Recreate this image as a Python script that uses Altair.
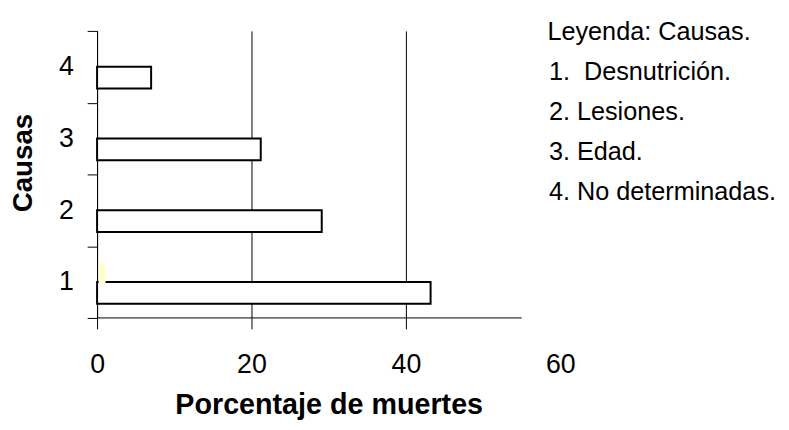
import altair as alt
import pandas as pd

# ---- data ----
causas = ["1", "2", "3", "4"]
porcentajes = [43.2, 29.1, 21.2, 7.0]
leyenda = ["1.\u00a0 Desnutrición.", "2. Lesiones.", "3. Edad.", "4. No determinadas."]
serie2_inicio = [0.2, 0.0, 0.0, 0.0]
serie2 = [1.1, 0.0, 0.0, 0.0]
x_ticks = [0, 20, 40, 60]
x_dominio = [0, 60]
eje_x_linea = [0, 55]

FONT = "Liberation Sans"
W, H = 468, 290

df = pd.DataFrame({"causa": causas, "pct": porcentajes, "leyenda": leyenda,
                   "s2a": serie2_inicio, "s2": serie2})
df2 = df[df["s2"] > 0]
eje_df = pd.DataFrame({"a": [eje_x_linea[0]], "b": [eje_x_linea[1]]})

xscale = alt.Scale(domain=x_dominio, nice=False, zero=True)
yscale = alt.Scale(domain=["4", "3", "2", "1"], paddingInner=0, paddingOuter=0)

xaxis = alt.Axis(
    values=x_ticks, format="d", domain=False, labelFlush=False,
    grid=True, gridColor="black", gridWidth=1,
    gridOpacity={"condition": {"test": "datum.value === 60", "value": 0}, "value": 1},
    ticks=True, tickSize=11, tickColor="black", tickWidth=1,
    tickOpacity={"condition": {"test": "datum.value === 60", "value": 0}, "value": 1},
    labelFontSize=27, labelColor="black", labelPadding=23, labelFont=FONT,
    title="Porcentaje de muertes", titleFontSize=29, titleFontWeight="bold",
    titleColor="black", titleFont=FONT, titleBaseline="alphabetic", titleY=97,
)
yaxis = alt.Axis(
    tickBand="extent", tickSize=10, tickColor="black", tickWidth=1,
    domainColor="black", domainWidth=1, grid=False,
    labelFontSize=27, labelColor="black", labelPadding=14, labelAngle=0, labelFont=FONT,
    title="Causas", titleFontSize=28, titleFontWeight="bold", titleColor="black",
    titleFont=FONT, titlePadding=21, titleY=133,
)

bars = alt.Chart(df).mark_bar(height=22, yOffset=11, stroke="black", strokeWidth=2).encode(
    x=alt.X("pct:Q", scale=xscale, axis=xaxis),
    y=alt.Y("causa:N", scale=yscale, axis=yaxis, sort=None),
    fill=alt.Fill(
        "leyenda:N",
        scale=alt.Scale(range=["white"] * 4),
        legend=alt.Legend(
            title="Leyenda: Causas.", orient="none", legendX=455, legendY=-11,
            titleFontSize=25.5, titleFontWeight="normal", titleColor="black", titleFont=FONT,
            labelFontSize=25.5, labelColor="black", labelFont=FONT,
            symbolSize=0, symbolOpacity=0, symbolStrokeWidth=0,
            labelOffset=alt.expr("-24"),
            rowPadding=13.5, titlePadding=14, padding=0, labelLimit=400, titleLimit=400,
        ),
    ),
)

amarillo = alt.Chart(df2).mark_bar(height=20, yOffset=-9, fill="#FFFFCC", strokeWidth=0).encode(
    x=alt.X("s2a:Q", scale=xscale, axis=xaxis),
    x2="s2:Q",
    y=alt.Y("causa:N", scale=yscale, axis=yaxis, sort=None),
)

eje = alt.Chart(eje_df).mark_rule(color="black", strokeWidth=1).encode(
    x=alt.X("a:Q", scale=xscale, axis=xaxis),
    x2="b:Q",
    y=alt.value(H),
)

chart = (
    alt.layer(bars, amarillo, eje)
    .properties(
        width=W, height=H,
        autosize=alt.AutoSizeParams(type="none"),
        padding={"left": 90, "top": 21, "right": 223, "bottom": 103},
        background="white",
    )
    .configure(font=FONT, view=alt.ViewConfig(strokeWidth=0, strokeOpacity=0))
)

chart.save("out.html", embed_options={"renderer": "svg", "actions": False})
